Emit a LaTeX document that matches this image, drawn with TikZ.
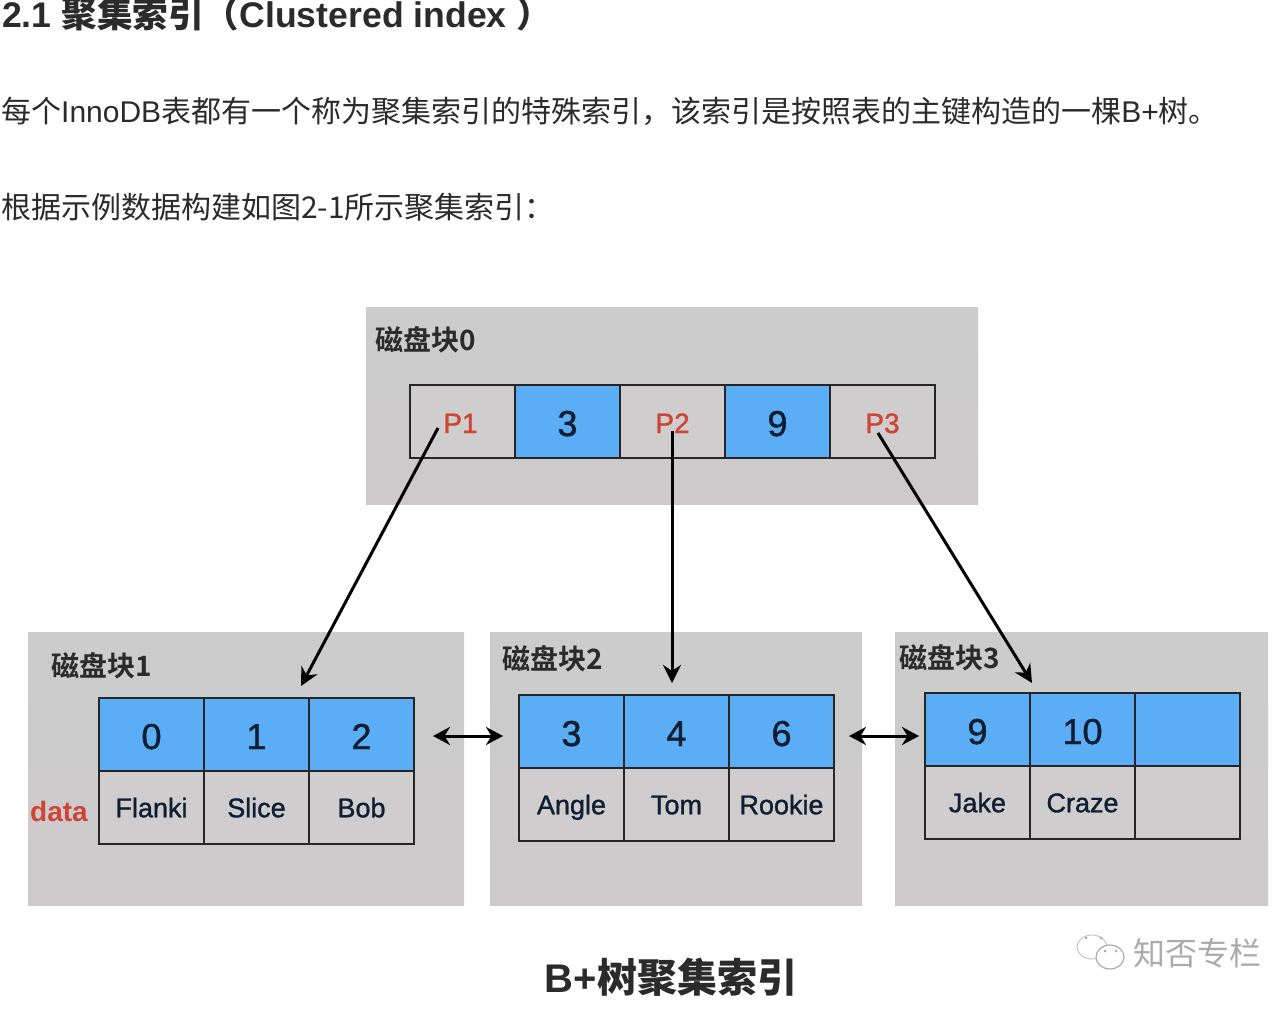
\documentclass[tikz,border=0pt]{standalone}
\usepackage{fontspec}
\usetikzlibrary{arrows.meta}
\setmainfont{Liberation Sans}
\newfontfamily\medf[FakeBold=1.2]{Liberation Sans}
\newfontfamily\cjk{Noto Sans CJK SC}
\newfontfamily\cjkb{Noto Sans CJK SC Bold}
\definecolor{panelgrey}{HTML}{CCCCCC}
\definecolor{panelpink}{HTML}{CDCACC}
\definecolor{cellblue}{HTML}{5BADF5}
\definecolor{cellgrey}{HTML}{CFCDCE}
\definecolor{redtxt}{HTML}{CF4435}
\definecolor{inktxt}{HTML}{2B2B2B}
\definecolor{cellink}{HTML}{0F1E30}
\definecolor{wmark}{HTML}{ABABAB}
\tikzset{
  panel/.style={draw=none,anchor=north west,inner sep=0,outer sep=0,minimum height=#1,top color=panelgrey,bottom color=panelpink},
  cellbase/.style={draw=black!85,line width=1.6pt,anchor=north west,inner sep=0,outer sep=0,minimum width=105pt,minimum height=73pt,text=cellink,text depth=0pt},
  keycell/.style={cellbase,fill=cellblue,text height=29pt,font=\medf\fontsize{36}{36}\selectfont},
  ptrcell/.style={cellbase,fill=cellgrey,text=redtxt,text height=23pt,font=\medf\fontsize{28}{28}\selectfont},
  datacell/.style={cellbase,fill=cellgrey,text height=19.5pt,font=\medf\fontsize{27}{27}\selectfont},
  blocklabel/.style={anchor=west,inner sep=0,text=inktxt,font=\cjkb\fontsize{28}{28}\selectfont},
  bodytext/.style={anchor=west,inner sep=0,text=inktxt,font=\fontsize{30}{30}\selectfont},
  linkarrow/.style={-{Stealth[length=18pt,width=18pt]},line width=3pt,black},
  siblingarrow/.style={{Stealth[length=17pt,width=18pt]}-{Stealth[length=17pt,width=18pt]},line width=3pt,black}
}
\begin{document}
\begin{tikzpicture}[x=1pt,y=-1pt]
\useasboundingbox (0,0) rectangle (1276,1024);
\clip (0,0) rectangle (1276,1024);
\fill[white] (0,0) rectangle (1276,1024);
% page text
\node[anchor=west,inner sep=0,text=inktxt,font=\fontsize{35.6}{36}\selectfont\bfseries] (title) at (2,14) {2.1 {\cjkb 聚集索引（}Clustered index {\cjkb ）}};
\node[bodytext] (line1) at (1,111) {{\cjk 每个}InnoDB{\cjk 表都有一个称为聚集索引的特殊索引，该索引是按照表的主键构造的一棵}B+{\cjk 树。}};
\node[bodytext] (line2) at (1,207) {{\cjk 根据示例数据构建如图2-1所示聚集索引：}};
% panels
\node[panel=197pt,minimum width=612pt] (p0) at (366,307) {};
\node[panel=273pt,minimum width=436pt] (p1) at (28,632) {};
\node[panel=273pt,minimum width=372pt] (p2) at (490,632) {};
\node[panel=273pt,minimum width=373pt] (p3) at (895,632) {};
\node[blocklabel] (l0) at (375,340) {磁盘块0};
\node[blocklabel] (l1) at (51,666) {磁盘块1};
\node[blocklabel] (l2) at (502,659) {磁盘块2};
\node[blocklabel] (l3) at (899,658) {磁盘块3};
% root cells
\node[ptrcell] (r1) at (410,385) {\hspace*{-4pt}P1};
\node[keycell] (r2) at (515,385) {3};
\node[ptrcell] (r3) at (620,385) {P2};
\node[keycell] (r4) at (725,385) {9};
\node[ptrcell] (r5) at (830,385) {P3};
% block 1
\node[keycell] (a1) at (99,698) {0};
\node[keycell] (a2) at (204,698) {1};
\node[keycell] (a3) at (309,698) {2};
\node[datacell] (a4) at (99,771) {Flanki};
\node[datacell] (a5) at (204,771) {Slice};
\node[datacell] (a6) at (309,771) {Bob};
% block 2
\node[keycell] (b1) at (519,695) {3};
\node[keycell] (b2) at (624,695) {4};
\node[keycell] (b3) at (729,695) {6};
\node[datacell] (b4) at (519,768) {Angle};
\node[datacell] (b5) at (624,768) {Tom};
\node[datacell] (b6) at (729,768) {Rookie};
% block 3
\node[keycell] (c1) at (925,693) {9};
\node[keycell] (c2) at (1030,693) {10};
\node[keycell] (c3) at (1135,693) {};
\node[datacell] (c4) at (925,766) {Jake};
\node[datacell] (c5) at (1030,766) {Craze};
\node[datacell] (c6) at (1135,766) {};
\node[text=redtxt,inner sep=0,font=\fontsize{28}{28}\selectfont\bfseries] (dlabel) at (59,811) {data};
% connectors
\coordinate (t1) at (438,428);
\coordinate (h1) at (301,686);
\coordinate (t2) at (672,431);
\coordinate (h2) at (672,683);
\coordinate (t3) at (878,433);
\coordinate (h3) at (1032,683);
\draw[linkarrow] (t1) -- (h1);
\draw[linkarrow] (t2) -- (h2);
\draw[linkarrow] (t3) -- (h3);
\coordinate (s1) at (433,736);
\coordinate (s2) at (503,736);
\coordinate (s3) at (849,736);
\coordinate (s4) at (919,736);
\draw[siblingarrow] (s1) -- (s2);
\draw[siblingarrow] (s3) -- (s4);
% caption
\node[inner sep=0,text=inktxt,font=\fontsize{40}{40}\selectfont\bfseries] (cap) at (671,977) {B+{\cjkb 树聚集索引}};
% watermark
\node[anchor=west,inner sep=0,text=wmark,font=\cjk\fontsize{32}{32}\selectfont] (wm) at (1133,953) {知否专栏};
\draw[wmark!70,line width=1pt] (1092,947) ellipse (15pt and 12pt);
\draw[wmark,line width=1.2pt,fill=white] (1110,957) ellipse (14pt and 12pt);
\fill[wmark] (1105,951) circle (1.5pt) (1116,951) circle (1.5pt) (1086,938) circle (1.5pt) (1101,938) circle (1.5pt);
\end{tikzpicture}
\end{document}
